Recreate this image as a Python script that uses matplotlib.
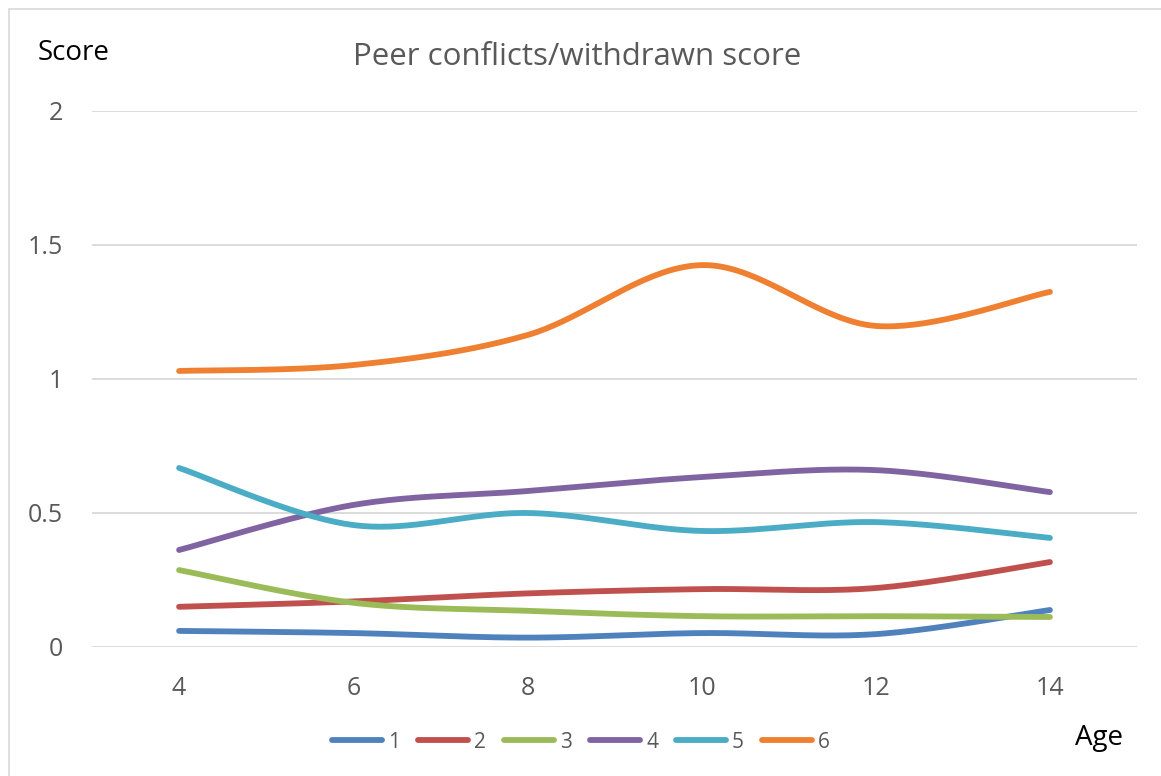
import numpy as np
import matplotlib
matplotlib.use("Agg")
import matplotlib.pyplot as plt
from matplotlib.patches import Rectangle

ages = [4, 6, 8, 10, 12, 14]
s1 = [0.060, 0.052, 0.035, 0.052, 0.048, 0.138]
s2 = [0.150, 0.170, 0.200, 0.216, 0.220, 0.317]
s3 = [0.287, 0.165, 0.135, 0.115, 0.115, 0.112]
s4 = [0.362, 0.530, 0.582, 0.634, 0.660, 0.578]
s5 = [0.668, 0.455, 0.500, 0.433, 0.466, 0.407]
s6 = [1.030, 1.052, 1.164, 1.425, 1.198, 1.325]
names = ["1", "2", "3", "4", "5", "6"]
colors = ["#4F81BD", "#C0504D", "#9BBB59", "#8064A2", "#4BACC6", "#EF8032"]


def smooth(x, y, n=40):
    # Excel-like smoothed line: cubic bezier with neighbour-based control points
    x = np.asarray(x, float)
    y = np.asarray(y, float)
    px = np.concatenate([[x[0]], x, [x[-1]]])
    py = np.concatenate([[y[0]], y, [y[-1]]])
    xs, ys = [], []
    t = np.linspace(0, 1, n)
    for i in range(len(x) - 1):
        p0 = np.array([px[i + 1], py[i + 1]])
        p3 = np.array([px[i + 2], py[i + 2]])
        c1 = p0 + (p3 - np.array([px[i], py[i]])) / 6
        c2 = p3 - (np.array([px[i + 3], py[i + 3]]) - p0) / 6
        b = ((1 - t) ** 3)[:, None] * p0 + (3 * (1 - t) ** 2 * t)[:, None] * c1 \
            + (3 * (1 - t) * t ** 2)[:, None] * c2 + (t ** 3)[:, None] * p3
        xs.append(b[:, 0])
        ys.append(b[:, 1])
    return np.concatenate(xs), np.concatenate(ys)


plt.rcParams["font.family"] = ["Open Sans", "DejaVu Sans"]

W, H = 1161, 776
fig = plt.figure(figsize=(W / 100, H / 100), dpi=100)
ax = fig.add_axes([92 / W, 1 - 647 / H, (1137 - 92) / W, (647 - 111) / H])

for ys, nm, c in zip([s1, s2, s3, s4, s5, s6], names, colors):
    sx, sy = smooth(ages, ys)
    ax.plot(sx, sy, color=c, lw=4.2, solid_capstyle="round", label=nm)

ax.set_xlim(3, 15)
ax.set_ylim(0, 2)
ax.set_xticks(ages)
ax.set_yticks([0, 0.5, 1, 1.5, 2])
ax.set_yticklabels(["0", "0.5", "1", "1.5", "2"])
ax.grid(axis="y", color="#D9D9D9", lw=1.3)
ax.set_axisbelow(True)
for sp in ax.spines.values():
    sp.set_visible(False)
ax.tick_params(length=0, labelsize=18, colors="#595959")
ax.tick_params(axis="y", pad=21)
ax.tick_params(axis="x", pad=21)

fig.text(353 / W, 1 - 65 / H, "Peer conflicts/withdrawn score", fontsize=22.5,
         color="#595959", va="baseline", ha="left")
fig.text(38 / W, 1 - 60 / H, "Score", fontsize=20, color="black", va="baseline")
fig.text(1075 / W, 1 - 745 / H, "Age", fontsize=20, color="black", va="baseline")

ax.legend(loc="center", bbox_to_anchor=((581 - 92) / (1137 - 92), (647 - 742) / (647 - 111)),
          ncol=6, frameon=False, fontsize=15, labelcolor="#595959",
          handlelength=2.4, handletextpad=0.3, columnspacing=0.85)

fig.patches.append(Rectangle((9 / W, -0.1), 1.2, 1 - 9 / H + 0.1,
                             transform=fig.transFigure, fill=False,
                             edgecolor="#D9D9D9", lw=1.2))

fig.savefig("out.png", dpi=100)
